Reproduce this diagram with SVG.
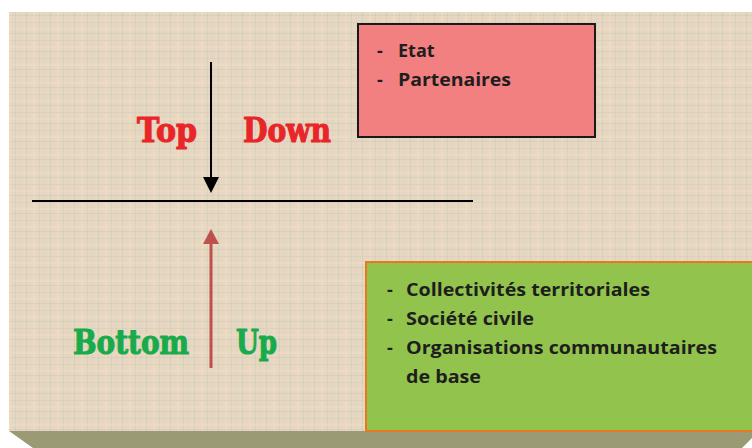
<svg xmlns="http://www.w3.org/2000/svg" width="752" height="448" viewBox="0 0 752 448">
<defs>
<pattern id="weave" x="0" y="0" width="24" height="18" patternUnits="userSpaceOnUse">
<rect width="24" height="18" fill="#e7d7c0"/>
<rect x="2" y="0" width="1" height="18" fill="#bfc8bd" opacity="0.45"/>
<rect x="9" y="0" width="2" height="18" fill="#f2dcc2" opacity="0.6"/>
<rect x="15" y="0" width="1" height="18" fill="#b6c4bd" opacity="0.35"/>
<rect x="20" y="0" width="1" height="18" fill="#cbd2c6" opacity="0.45"/>
<rect x="0" y="4" width="24" height="1" fill="#bdc7bd" opacity="0.35"/>
<rect x="0" y="10" width="24" height="2" fill="#f0dbc3" opacity="0.5"/>
<rect x="0" y="15" width="24" height="1" fill="#b4c2bb" opacity="0.3"/>
</pattern>
<style>
.box-text{font-family:"Open Sans","Liberation Sans",sans-serif;font-weight:bold;font-size:18px;fill:#1e1e1e}
.big{font-family:"DejaVu Serif","Liberation Serif",serif;font-weight:bold;font-size:34px;stroke-width:1.2;stroke-linejoin:round}
.red{fill:#e8262a;stroke:#e8262a}
.green{fill:#19ab4b;stroke:#19ab4b}
</style>
</defs>
<rect x="0" y="0" width="752" height="448" fill="#ffffff"/>
<rect x="9" y="12" width="743" height="419" fill="url(#weave)"/>
<polygon points="9,431 752,431 752,438 742,448 33,448" fill="#9a9a74"/>

<g id="connectors">
<line x1="32" y1="201" x2="473" y2="201" stroke="#000" stroke-width="2"/>
<line x1="211" y1="62" x2="211" y2="178" stroke="#000" stroke-width="2"/>
<polygon points="203,177 219,177 211,193" fill="#000"/>
<line x1="211" y1="368" x2="211" y2="243" stroke="#c0504d" stroke-width="3"/>
<polygon points="203,244 219,244 211,229" fill="#c0504d"/>
</g>

<g id="label-top-down">
<text class="big red" x="137" y="142" textLength="60" lengthAdjust="spacingAndGlyphs">Top</text>
<text class="big red" x="243" y="142" textLength="88" lengthAdjust="spacingAndGlyphs">Down</text>
</g>
<g id="label-bottom-up">
<text class="big green" x="73" y="354" textLength="116" lengthAdjust="spacingAndGlyphs">Bottom</text>
<text class="big green" x="236" y="354" textLength="41" lengthAdjust="spacingAndGlyphs">Up</text>
</g>

<g id="node-top">
<rect x="358" y="24" width="237" height="113" fill="#f28080" stroke="#1a1a1a" stroke-width="2"/>
<text class="box-text" x="377" y="57">-</text>
<text class="box-text" x="398" y="57">Etat</text>
<text class="box-text" x="377" y="86">-</text>
<text class="box-text" x="398" y="86" textLength="113" lengthAdjust="spacingAndGlyphs">Partenaires</text>
</g>

<g id="node-bottom">
<rect x="366" y="262" width="392" height="169" fill="#92c34c" stroke="#e87722" stroke-width="2"/>
<text class="box-text" x="387" y="296">-</text>
<text class="box-text" x="406" y="296" textLength="244" lengthAdjust="spacingAndGlyphs">Collectivités territoriales</text>
<text class="box-text" x="387" y="325">-</text>
<text class="box-text" x="406" y="325" textLength="128" lengthAdjust="spacingAndGlyphs">Société civile</text>
<text class="box-text" x="387" y="354">-</text>
<text class="box-text" x="406" y="354" textLength="311" lengthAdjust="spacingAndGlyphs">Organisations communautaires</text>
<text class="box-text" x="406" y="383" textLength="75" lengthAdjust="spacingAndGlyphs">de base</text>
</g>
</svg>
